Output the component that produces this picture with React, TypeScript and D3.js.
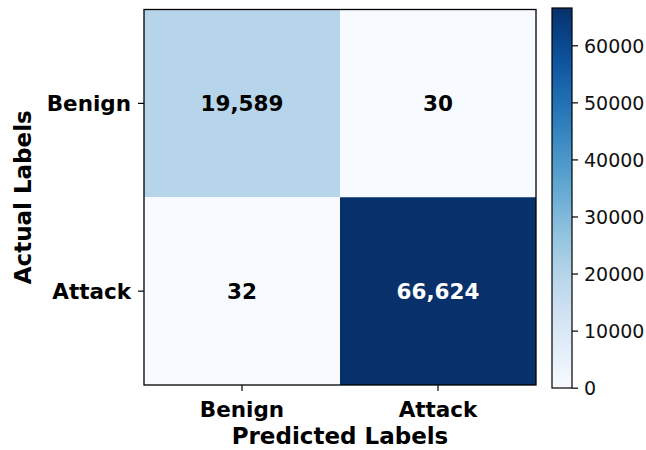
import React from "react";
import * as d3 from "d3";

const predictedLabels = ["Benign", "Attack"];
const actualLabels = ["Benign", "Attack"];
const matrix = [
  [19589, 30],
  [32, 66624],
];
const colorbarTicks = [0, 10000, 20000, 30000, 40000, 50000, 60000];

export default function App() {
  const W = 646, H = 450;
  const left = 144, right = 536, top = 9.5, bottom = 385;
  const x = d3.scaleBand<string>().domain(predictedLabels).range([left, right]);
  const y = d3.scaleBand<string>().domain(actualLabels).range([top, bottom]);
  const flat = matrix.flat();
  const vmin = d3.min(flat)!, vmax = d3.max(flat)!;
  const color = d3.scaleSequential(d3.interpolateBlues).domain([vmin, vmax]);
  const cbX = 552, cbW = 20, cbTop = 8, cbBottom = 388;
  const cbY = d3.scaleLinear().domain([vmin, vmax]).range([cbBottom, cbTop]);
  const fmt = d3.format(",");
  const font = "DejaVu Sans";
  const stops = d3.range(0, 1.0001, 0.05);
  return (
    <svg width={W} height={H} style={{ position: "absolute", left: 0, top: 0, background: "#fff" }} fontFamily={font}>
      <defs>
        <linearGradient id="cb" x1="0" y1="1" x2="0" y2="0">
          {stops.map((t) => (
            <stop key={t} offset={t} stopColor={d3.interpolateBlues(t)} />
          ))}
        </linearGradient>
      </defs>
      {actualLabels.map((a, i) =>
        predictedLabels.map((p, j) => {
          const v = matrix[i][j];
          return (
            <g key={`${i}-${j}`}>
              <rect x={x(p)} y={y(a)} width={x.bandwidth()} height={y.bandwidth()} fill={color(v)} />
              <text
                x={x(p)! + x.bandwidth() / 2}
                y={y(a)! + y.bandwidth() / 2}
                textAnchor="middle"
                dominantBaseline="central"
                fontWeight="bold"
                fontSize={21.5}
                fill={v > vmax / 2 ? "#fff" : "#000"}
              >
                {fmt(v)}
              </text>
            </g>
          );
        })
      )}
      <rect x={left} y={top} width={right - left} height={bottom - top} fill="none" stroke="#000" strokeWidth={1.3} />
      {predictedLabels.map((p) => {
        const cx = x(p)! + x.bandwidth() / 2;
        return (
          <g key={p}>
            <line x1={cx} x2={cx} y1={bottom} y2={bottom + 6} stroke="#000" strokeWidth={1.2} />
            <text x={cx} y={417} textAnchor="middle" fontWeight="bold" fontSize={21.5}>{p}</text>
          </g>
        );
      })}
      {actualLabels.map((a) => {
        const cy = y(a)! + y.bandwidth() / 2;
        return (
          <g key={a}>
            <line x1={left - 6} x2={left} y1={cy} y2={cy} stroke="#000" strokeWidth={1.2} />
            <text x={left - 13} y={cy} textAnchor="end" dominantBaseline="central" fontWeight="bold" fontSize={21.5}>{a}</text>
          </g>
        );
      })}
      <text x={340} y={444} textAnchor="middle" fontWeight="bold" fontSize={23}>Predicted Labels</text>
      <text transform={`translate(31,${(top + bottom) / 2}) rotate(-90)`} textAnchor="middle" fontWeight="bold" fontSize={23}>Actual Labels</text>
      <rect x={cbX} y={cbTop} width={cbW} height={cbBottom - cbTop} fill="url(#cb)" stroke="#000" strokeWidth={1.2} />
      {colorbarTicks.map((t) => (
        <g key={t}>
          <line x1={cbX + cbW} x2={cbX + cbW + 6} y1={cbY(t)} y2={cbY(t)} stroke="#000" strokeWidth={1.2} />
          <text x={cbX + cbW + 12} y={cbY(t)} dominantBaseline="central" fontSize={19} fill="#111">{t}</text>
        </g>
      ))}
    </svg>
  );
}
